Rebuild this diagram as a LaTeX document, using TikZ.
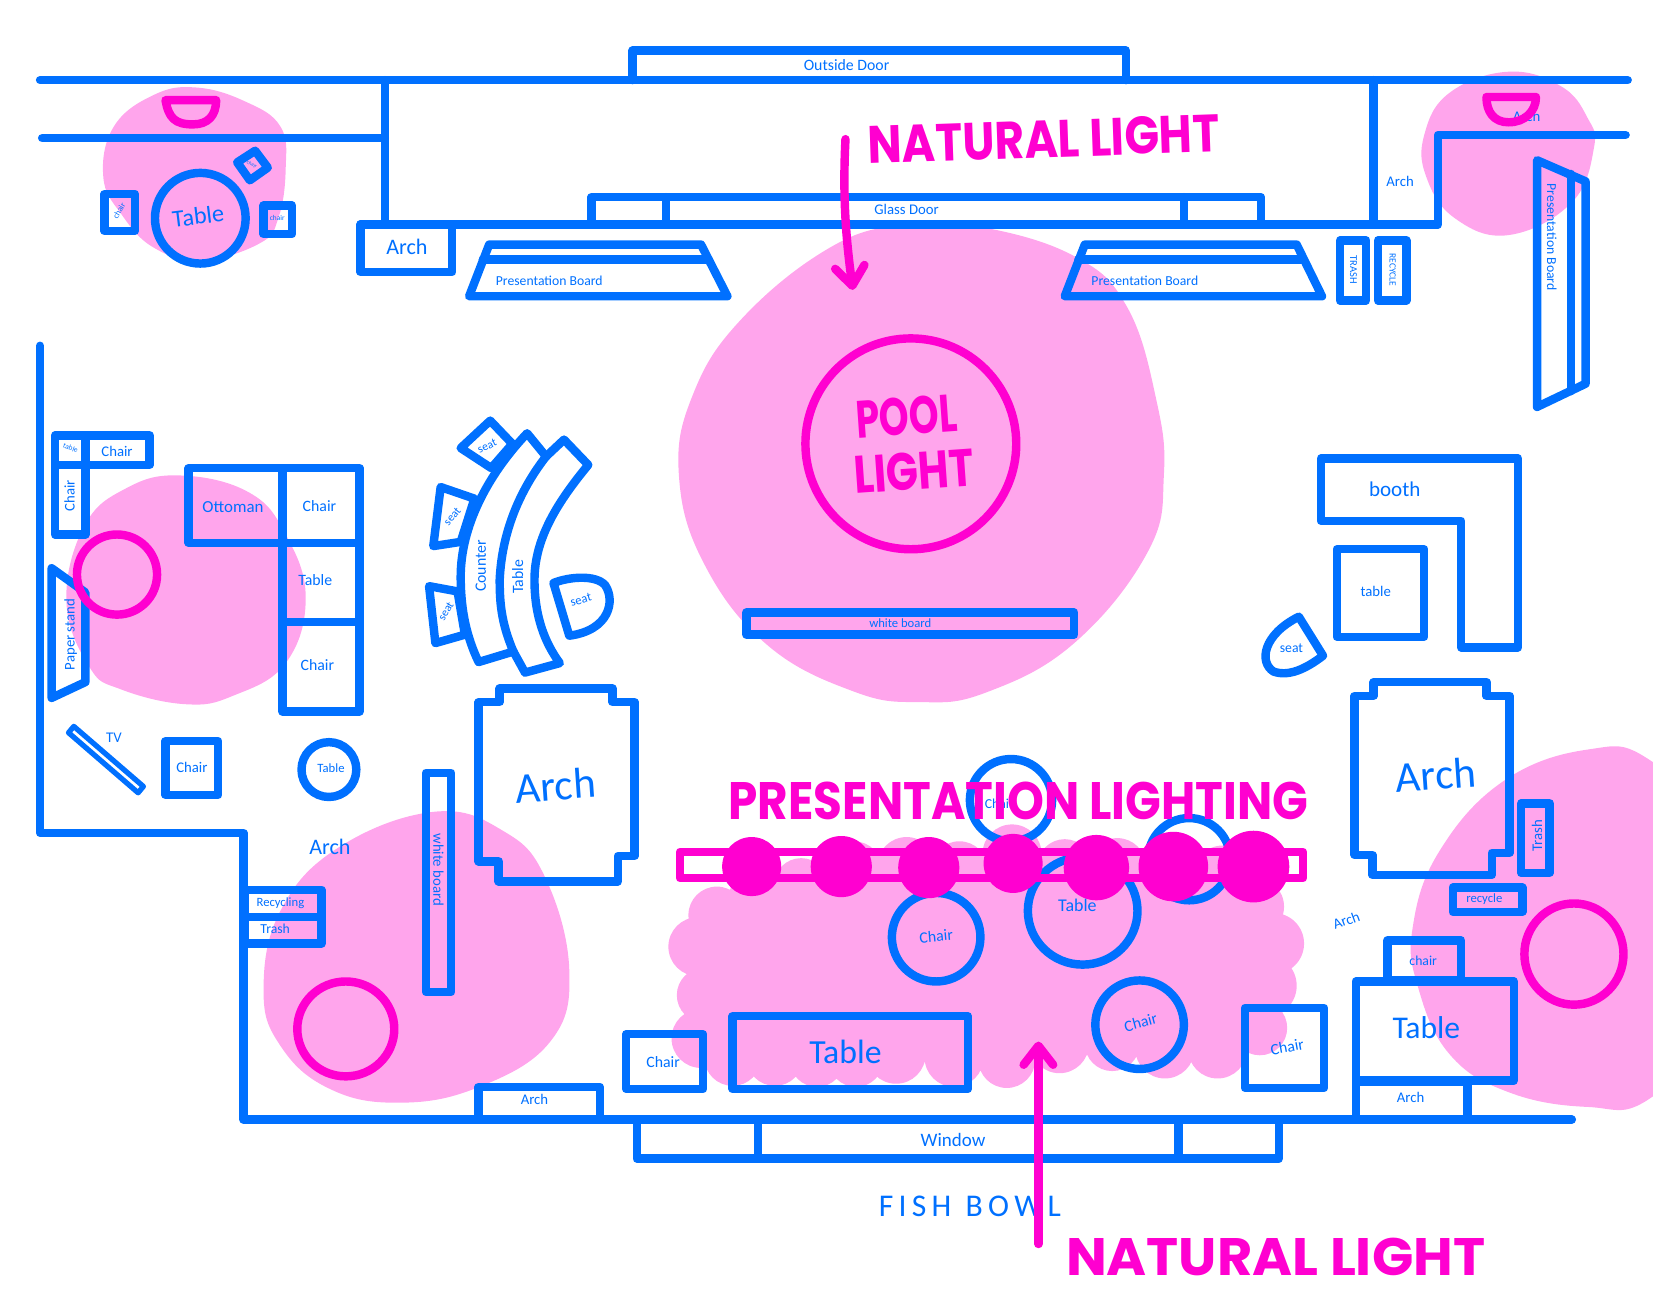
\documentclass[tikz,border=0pt]{standalone}
\usepackage{fontspec}
\setmainfont{Carlito}
\newfontfamily\markerfont{Poppins}
\usetikzlibrary{arrows.meta}
\definecolor{plan_blue}{RGB}{0,112,255}
\definecolor{light_hot}{RGB}{255,0,208}
\definecolor{light_glow}{RGB}{255,165,236}
\newcommand{\fsz}[1]{\fontsize{#1}{#1}\selectfont}

\begin{document}
\begin{tikzpicture}[x=1pt,y=-1pt,line join=round,line cap=round]
    \tikzstyle{wall}=[draw=plan_blue,line width=8pt]
    \tikzstyle{lamp}=[draw=light_hot,line width=8pt]
    \tikzstyle{glow}=[fill=light_glow,draw=none]
    \tikzstyle{tag}=[text=plan_blue,inner sep=0pt]
    \tikzstyle{shout}=[text=light_hot,inner sep=0pt,font=\markerfont\bfseries\fsz{50},transform shape]
    \tikzstyle{ray}=[lamp,->,>={Straight Barb[length=18pt,width=28pt,round]}]

    \clip (0,0) rectangle (1568,1239.8);

    % pools of light
    \fill[glow] plot[smooth cycle,tension=0.7] coordinates {(186,83) (232,96) (266,120) (271,160) (264,207) (246,231) (191,247) (146,235) (115,203) (98,168) (108,120) (146,90)};
    \fill[glow] plot[smooth cycle,tension=0.7] coordinates {(1431,68) (1481,82) (1506,112) (1512,140) (1491,192) (1431,223) (1380,207) (1353,168) (1351,128) (1375,88)};
    \fill[glow] plot[smooth cycle,tension=0.7] coordinates {(929,215) (1019,243) (1069,291) (1097,380) (1104,451) (1089,523) (1019,610) (935,657) (872,666) (810,656) (728,612) (668,535) (644,451) (657,375) (703,303) (787,235) (858,213)};
    \fill[glow] plot[smooth cycle,tension=0.7] coordinates {(171,451) (236,467) (271,507) (290,567) (271,629) (221,660) (176,668) (115,654) (85,633) (63,571) (80,499) (120,463)};
    \fill[glow] plot[smooth cycle,tension=0.7] coordinates {(412,770) (477,788) (517,832) (540,920) (522,988) (452,1032) (376,1046) (311,1032) (266,992) (250,940) (266,864) (321,804)};
    \fill[glow] plot[smooth cycle,tension=0.7] coordinates {(1506,711) (1565,721) (1640,800) (1640,960) (1565,1042) (1506,1050) (1431,1036) (1375,1000) (1345,936) (1340,880) (1365,808) (1426,741)};
    % the cloud under the rail
    \fill[glow] (680,868) -- (662,898) -- (668,944) -- (665,985) -- (695,1003) -- (1155,995) -- (1195,975) -- (1200,935) -- (1208,895) -- (1190,860) -- (1160,830) -- (1010,822) -- (960,810) -- (760,840) -- cycle;
    \fill[glow] (680,868) circle (27) (662,898) circle (28) (668,944) circle (26) (665,985) circle (28) (695,1003) circle (27)
      (735,1003) circle (27) (775,1005) circle (26) (812,1005) circle (26) (850,1000) circle (28) (905,1003) circle (28) (955,1005) circle (27) (1005,990) circle (28)
      (1055,990) circle (26) (1105,995) circle (28) (1155,995) circle (28) (1195,975) circle (26) (1200,935) circle (30) (1208,895) circle (29)
      (1190,860) circle (28) (1160,830) circle (28) (1110,820) circle (28) (1060,822) circle (27) (1010,822) circle (26) (960,810) circle (28)
      (910,825) circle (27) (860,822) circle (28) (810,825) circle (27) (760,840) circle (26) (715,860) circle (28);

    % walls and doors
    \draw[wall] (38,76) -- (1544,76);
    \draw[wall] (40,131) -- (365,131);
    \draw[wall] (365,76) -- (365,213);
    \draw[wall] (1303,76) -- (1303,213);
    \draw[wall] (342,213) -- (1364,213) -- (1364,128) -- (1542,128);
    \draw[wall] (600,76) -- (600,48) -- (1068,48) -- (1068,76);
    \draw[wall] (561,213) -- (561,187) -- (1196,187) -- (1196,213);
    \draw[wall] (632,187) -- (632,213);
    \draw[wall] (1123,187) -- (1123,213);
    \draw[wall] (38,328) -- (38,790) -- (231,790) -- (231,1062) -- (1491,1062);
    \draw[wall] (604,1062) -- (604,1099) -- (1213,1099) -- (1213,1062);
    \draw[wall] (719,1062) -- (719,1099);
    \draw[wall] (1118,1062) -- (1118,1099);

    % top row
    \draw[wall] (342,213) rectangle (429,258);
    \draw[wall] (464,232) -- (665,232) -- (690,281) -- (445,281) -- cycle;
    \draw[wall] (458,246) -- (672,246);
    \draw[wall] (1029,232) -- (1230,232) -- (1254,281) -- (1010,281) -- cycle;
    \draw[wall] (1023,246) -- (1236,246);
    \draw[wall] (1271,228) rectangle (1296,285);
    \draw[wall] (1307,228) rectangle (1334,285);
    \draw[wall] (1458,152) -- (1504,172) -- (1504,364) -- (1458,386) -- cycle;
    \draw[wall] (1490,165) -- (1490,371);

    % corner table
    \draw[wall] (190,207) ellipse (43 and 43);
    \draw[wall] (99,184) rectangle (128,219);
    \draw[wall] (250,195) rectangle (277,222);
    \draw[wall] (242,143) -- (254,159) -- (237,171) -- (225,154) -- cycle;

    % left lounge
    \draw[wall] (52,413) rectangle (142,441);
    \draw[wall] (81,413) -- (81,441);
    \draw[wall] (52,441) rectangle (81,507);
    \draw[wall] (179,444) rectangle (268,515);
    \draw[wall] (268,444) rectangle (341,515);
    \draw[wall] (268,515) rectangle (341,590);
    \draw[wall] (268,590) rectangle (341,675);
    \draw[wall] (49,539) -- (81,562) -- (81,647) -- (49,662) -- cycle;
    \draw[wall,line width=5pt] (70,689) -- (136,746) -- (131,752) -- (65,695) -- cycle;
    \draw[wall] (157,703) rectangle (207,754);
    \draw[wall] (312,730) ellipse (26 and 26);
    \draw[wall] (232,844) rectangle (305,870);
    \draw[wall] (232,870) rectangle (305,895);
    \draw[wall] (404,733) rectangle (428,941);

    % counter and seats
    \draw[wall] (500,411) .. controls (462,451) and (437,500) .. (437,547) .. controls (437,580) and (443,605) .. (454,628) -- (487,618) .. controls (475,590) and (474,570) .. (474,550) .. controls (476,505) and (493,465) .. (518,433) -- cycle;
    \draw[wall] (518,433) -- (535,417) -- (558,441) .. controls (530,475) and (507,510) .. (507,550) .. controls (507,585) and (517,610) .. (531,629) -- (498,638) -- (487,618);
    \draw[wall] (465,399) -- (486,421) -- (466,444) -- (437,425) -- cycle;
    \draw[wall] (418,462) -- (450,473) -- (437,514) -- (411,518) -- cycle;
    \draw[wall] (407,556) -- (434,561) -- (441,602) -- (413,610) -- cycle;
    \draw[wall] (525,553) .. controls (540,547) and (565,545) .. (574,555) .. controls (584,570) and (578,598) .. (540,603) -- cycle;

    % arches
    \draw[wall] (474,653) -- (581,653) -- (581,666) -- (602,666) -- (602,812) -- (586,812) -- (586,836) -- (473,836) -- (473,817) -- (454,817) -- (454,666) -- (474,666) -- cycle;
    \draw[wall] (1303,647) -- (1410,647) -- (1410,660) -- (1432,660) -- (1432,809) -- (1415,809) -- (1415,830) -- (1302,830) -- (1302,811) -- (1285,811) -- (1285,660) -- (1303,660) -- cycle;
    \draw[wall] (454,1031) rectangle (569,1062);
    \draw[wall] (1286,1026) rectangle (1392,1062);

    % middle of the room
    \draw[wall] (708,581) rectangle (1019,602);
    \draw[wall] (1253,435) -- (1440,435) -- (1440,614) -- (1386,614) -- (1386,494) -- (1253,494) -- cycle;
    \draw[wall] (1268,521) rectangle (1351,604);
    \draw[wall] (1232,585) -- (1255,622) .. controls (1238,635) and (1222,642) .. (1208,637) .. controls (1194,628) and (1198,602) .. (1232,585) -- cycle;
    \draw[wall] (959,759) ellipse (39 and 39);
    \draw[wall] (1128,815) ellipse (39 and 39);
    \draw[wall] (888,889) ellipse (42 and 42);
    \draw[wall] (1027,864) ellipse (52 and 51);
    \draw[wall] (1081,972) ellipse (42 and 42);
    \draw[wall] (594,981) rectangle (667,1033);
    \draw[wall] (695,964) rectangle (918,1033);
    \draw[wall] (1181,956) rectangle (1256,1032);

    % bottom right
    \draw[wall] (1443,762) rectangle (1470,828);
    \draw[wall] (1378,842) rectangle (1444,865);
    \draw[wall] (1316,892) rectangle (1386,930);
    \draw[wall] (1286,931) rectangle (1436,1025);

    % labels
    \node[tag,font=\fsz{15}] (outdoor) at (803,62) {Outside Door};
    \node[tag,font=\fsz{14}] (glassdoor) at (860,199) {Glass Door};
    \node[tag,font=\fsz{21}] (archA) at (386,234) {Arch};
    \node[tag,font=\fsz{14}] (archB) at (1328,172) {Arch};
    \node[tag,font=\fsz{14}] (archC) at (1448,110) {Arch};
    \node[tag,font=\fsz{13}] (boardA) at (521,266) {Presentation Board};
    \node[tag,font=\fsz{13}] (boardB) at (1086,266) {Presentation Board};
    \node[tag,font=\fsz{13},rotate=-90] (boardC) at (1472,225) {Presentation Board};
    \node[tag,font=\fsz{10},rotate=-90] (trashA) at (1284,256) {TRASH};
    \node[tag,font=\fsz{9},rotate=-90] (recycleA) at (1321,256) {RECYCLE};
    \node[tag,font=\fsz{23},rotate=7] (tableA) at (188,205) {Table};
    \node[tag,font=\fsz{8},rotate=60] (chairA) at (113,200) {chair};
    \node[tag,font=\fsz{7}] (chairB) at (263,207) {chair};
    \node[tag,font=\fsz{5},rotate=-25] (chairC) at (239,156) {chair};
    \node[tag,font=\fsz{7},rotate=-20] (tableB) at (67,425) {table};
    \node[tag,font=\fsz{14}] (chairD) at (111,428) {Chair};
    \node[tag,font=\fsz{14},rotate=90] (chairE) at (66,470) {Chair};
    \node[tag,font=\fsz{16}] (ottoman) at (221,481) {Ottoman};
    \node[tag,font=\fsz{15}] (chairF) at (303,480) {Chair};
    \node[tag,font=\fsz{15}] (tableC) at (299,550) {Table};
    \node[tag,font=\fsz{15}] (chairG) at (301,631) {Chair};
    \node[tag,font=\fsz{14},rotate=90] (paper) at (67,602) {Paper stand};
    \node[tag,font=\fsz{14}] (tv) at (108,700) {TV};
    \node[tag,font=\fsz{14}] (chairH) at (182,728) {Chair};
    \node[tag,font=\fsz{12}] (tableD) at (314,729) {Table};
    \node[tag,font=\fsz{21}] (archD) at (313,803) {Arch};
    \node[tag,font=\fsz{12}] (recycling) at (266,857) {Recycling};
    \node[tag,font=\fsz{13}] (trashB) at (261,881) {Trash};
    \node[tag,font=\fsz{14},rotate=-90] (whiteA) at (416,825) {white board};
    \node[tag,font=\fsz{41},rotate=4] (archE) at (527,745) {Arch};
    \node[tag,font=\fsz{14}] (archF) at (507,1043) {Arch};
    \node[tag,font=\fsz{15}] (chairI) at (629,1007) {Chair};
    \node[tag,font=\fsz{32}] (tableE) at (802,998) {Table};
    \node[tag,font=\fsz{18}] (window) at (904,1081) {Window};
    \node[tag,font=\fsz{13}] (chairN) at (948,762) {Chair};
    \node[tag,font=\fsz{15},rotate=5] (chairJ) at (888,888) {Chair};
    \node[tag,font=\fsz{17}] (tableF) at (1022,859) {Table};
    \node[tag,font=\fsz{15},rotate=15] (chairK) at (1082,970) {Chair};
    \node[tag,font=\fsz{15},rotate=10] (chairL) at (1221,993) {Chair};
    \node[tag,font=\fsz{30}] (fish) at (920,1144) {F\,I\,S\,H\ \ B\,O\,W\,L};
    \node[tag,font=\fsz{30}] (tableG) at (1353,975) {Table};
    \node[tag,font=\fsz{13}] (chairM) at (1350,911) {chair};
    \node[tag,font=\fsz{14}] (archG) at (1338,1041) {Arch};
    \node[tag,font=\fsz{41},rotate=4] (archH) at (1362,735) {Arch};
    \node[tag,font=\fsz{14},rotate=90] (trashC) at (1458,793) {Trash};
    \node[tag,font=\fsz{12}] (recycleB) at (1408,853) {recycle};
    \node[tag,font=\fsz{14},rotate=20] (archI) at (1277,873) {Arch};
    \node[tag,font=\fsz{20}] (booth) at (1323,464) {booth};
    \node[tag,font=\fsz{14}] (tableH) at (1305,561) {table};
    \node[tag,font=\fsz{13}] (seatA) at (1225,615) {seat};
    \node[tag,font=\fsz{12}] (whiteB) at (854,591) {white board};
    \node[tag,font=\fsz{11},rotate=25] (seatB) at (462,423) {seat};
    \node[tag,font=\fsz{11},rotate=50] (seatC) at (429,490) {seat};
    \node[tag,font=\fsz{11},rotate=60] (seatD) at (423,580) {seat};
    \node[tag,font=\fsz{12},rotate=15] (seatE) at (551,569) {seat};
    \node[tag,font=\fsz{15},rotate=90] (counter) at (456,537) {Counter};
    \node[tag,font=\fsz{15},rotate=90] (tableI) at (491,547) {Table};

    % magenta layer
    \draw[lamp] (864,421) ellipse (100 and 100);
    \draw[lamp] (111,545) ellipse (38 and 38);
    \draw[lamp] (328,976) ellipse (46 and 45);
    \draw[lamp] (1493,905) ellipse (47 and 48);
    \draw[lamp] (157,95) -- (205,95) .. controls (205,110) and (197,118) .. (183,118) .. controls (166,118) and (160,112) .. (157,95) -- cycle;
    \draw[lamp] (1410,92) -- (1457,92) .. controls (1457,106) and (1446,116) .. (1431,116) .. controls (1417,116) and (1410,106) .. (1410,92) -- cycle;
    \draw[lamp] (645,808) rectangle (1236,833);
    \fill[light_hot] (713,822) circle (28) (798,822) circle (29) (881,823) circle (29) (961,819) circle (28) (1040,823) circle (31) (1113,822) circle (33) (1189,822) circle (34);

    \node[shout,rotate=2,xscale=0.865] (naturalA) at (990,132) {NATURAL LIGHT};
    \node[shout,xscale=1.03] (naturalB) at (1210,1192) {NATURAL LIGHT};
    \node[shout,rotate=4,xscale=0.72] (pool) at (860,395) {POOL};
    \node[shout,rotate=4,xscale=0.8] (pooltwo) at (867,447) {LIGHT};
    \node[shout,xscale=0.89] (present) at (966,760) {PRESENTATION LIGHTING};

    \coordinate (rayA) at (802,132);
    \coordinate (rayB) at (809,275);
    \coordinate (rayC) at (985,1180);
    \coordinate (rayD) at (985,988);
    \draw[ray] (rayA) .. controls (799,190) and (803,230) .. (rayB);
    \draw[ray] (rayC) -- (rayD);
\end{tikzpicture}
\end{document}
